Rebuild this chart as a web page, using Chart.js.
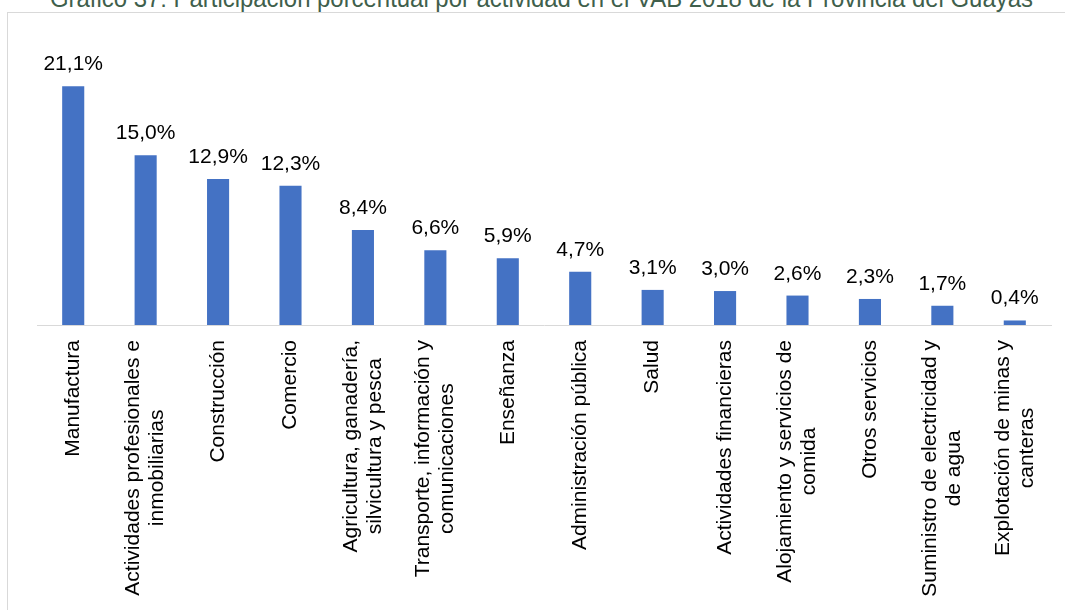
<!DOCTYPE html>
<html>
<head>
<meta charset="utf-8">
<script src="https://cdn.jsdelivr.net/npm/chart.js@4.4.1/dist/chart.umd.min.js"></script>
<style>
  html, body { margin: 0; padding: 0; background: #fff; overflow: hidden; }
  #wrap { position: relative; width: 1065px; height: 610px; }
  #frame { position: absolute; left: 7px; top: 12px; width: 1070px; height: 620px;
           border-left: 1px solid #d9d9d9; border-top: 1px solid #d9d9d9; }
  #title { position: absolute; left: 50px; top: -14px; white-space: nowrap;
           font-family: "Liberation Sans Narrow", "Arial Narrow", "Liberation Sans", Arial, sans-serif;
           font-size: 25px; line-height: 25px; color: #3f5f4c; transform-origin: 0 0; }
  #c { position: absolute; left: 0; top: 0; }
</style>
</head>
<body>
<div id="wrap">
  <div id="frame"></div>
  <div id="title">Gráfico 37: Participación porcentual por actividad en el VAB 2018 de la Provincia del Guayas</div>
  <canvas id="c" width="1065" height="610"></canvas>
</div>
<script>
// actividades (ejes) y participación en %
var actividades = [
	"Manufactura",
	["Actividades profesionales e", "inmobiliarias"],
	"Construcción",
	"Comercio",
	["Agricultura, ganadería,", "silvicultura y pesca"],
	["Transporte, información y", "comunicaciones"],
	"Enseñanza",
	"Administración pública",
	"Salud",
	"Actividades financieras",
	["Alojamiento y servicios de", "comida"],
	"Otros servicios",
	["Suministro de electricidad y", "de agua"],
	["Explotación de minas y", "canteras"]
];
var participacion = [21.1, 15.0, 12.9, 12.3, 8.4, 6.6, 5.9, 4.7, 3.1, 3.0, 2.6, 2.3, 1.7, 0.4];
var etiquetas = participacion.map(function(v){ return v.toFixed(1).replace(".", ",") + "%"; });

// stretch title to the width it has in the picture
var t = document.getElementById("title");
t.style.transform = "scaleX(" + (983 / t.offsetWidth) + ")";

var FONT = "'Liberation Sans', Arial, sans-serif";

// data labels above bars + vertical category labels (lines centred like Excel does)
var labelsPlugin = {
	id: "labelsPlugin",
	afterDatasetsDraw: function(chart){
		var ctx = chart.ctx;
		ctx.save();
		ctx.font = "21px " + FONT;
		ctx.fillStyle = "#000";
		ctx.textAlign = "center";
		ctx.textBaseline = "alphabetic";
		chart.getDatasetMeta(0).data.forEach(function(bar, i){
			ctx.fillText(etiquetas[i], bar.x, bar.y - 16);
		});

		var xs = chart.scales.x;
		var top = xs.top + 15, lh = 24;
		ctx.textBaseline = "middle";
		actividades.forEach(function(lab, i){
			var lines = [].concat(lab);
			var w = Math.max.apply(null, lines.map(function(l){ return ctx.measureText(l).width; }));
			var x = xs.getPixelForTick(i);
			lines.forEach(function(l, j){
				ctx.save();
				ctx.translate(x + (j - (lines.length - 1) / 2) * lh, top + w / 2);
				ctx.rotate(-Math.PI / 2);
				ctx.fillText(l, 0, 0);
				ctx.restore();
			});
		});
		ctx.restore();
	}
};

new Chart(document.getElementById("c").getContext("2d"), {
	type: "bar",
	data: {
		labels: actividades,
		datasets: [{
			data: participacion,
			backgroundColor: "#4472C4",
			barPercentage: 0.61,
			categoryPercentage: 0.5
		}]
	},
	options: {
		responsive: false,
		animation: false,
		layout: { padding: { left: 37, right: 14, top: 42, bottom: 0 } },
		plugins: { legend: { display: false }, tooltip: { enabled: false } },
		scales: {
			x: {
				grid: { display: false },
				border: { display: true, color: "#d9d9d9", width: 1 },
				ticks: { display: false },
				afterFit: function(scale){ scale.height = 285; }
			},
			y: { display: false, min: 0, max: 25 }
		}
	},
	plugins: [labelsPlugin]
});
</script>
</body>
</html>
